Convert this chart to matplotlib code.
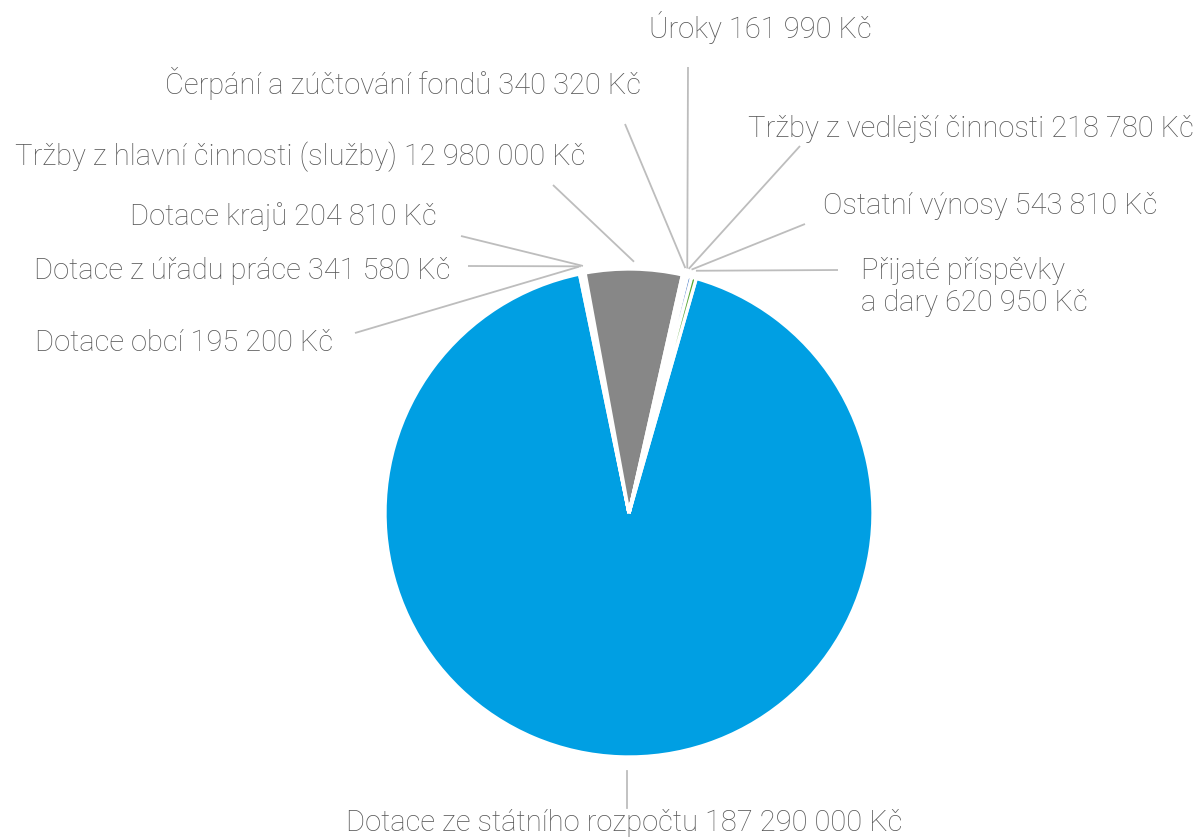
import math

import matplotlib.pyplot as plt

# hodnoty v Kč, pořadí po směru hodinových ručiček od modré výseče
labels = [
    "Dotace ze státního rozpočtu 187 290 000 Kč",
    "Dotace obcí 195 200 Kč",
    "Dotace z úřadu práce 341 580 Kč",
    "Dotace krajů 204 810 Kč",
    "Tržby z hlavní činnosti (služby) 12 980 000 Kč",
    "Čerpání a zúčtování fondů 340 320 Kč",
    "Úroky 161 990 Kč",
    "Tržby z vedlejší činnosti 218 780 Kč",
    "Ostatní výnosy 543 810 Kč",
    "Přijaté příspěvky\na dary 620 950 Kč",
]
values = [187290000, 195200, 341580, 204810, 12980000, 340320, 161990, 218780, 543810, 620950]
colors = ["#009fe3", "#f2b700", "#e5007e", "#95c11f", "#878787",
          "#b5b5b5", "#7ba7d9", "#c4d600", "#4a7cc7", "#55a630"]

W, H = 1203, 840
CX, CY, R = 629, 513, 244

# label anchors in pixels (x, y, ha)
label_pos = [
    (624, 823, "center"),
    (333, 343, "right"),
    (451, 271, "right"),
    (437, 217, "right"),
    (585, 157, "right"),
    (641, 83, "right"),
    (760, 28, "center"),
    (748, 129, "left"),
    (823, 206, "left"),
    (861, 287, "left"),
]
# start of leader line near the label (pixels)
line_start = [
    (627, 808),
    (355, 333),
    (468, 266),
    (461, 236),
    (553, 185),
    (625, 124),
    (688, 67),
    (800, 146),
    (805, 224),
    (838, 270),
]


def py(y):
    return H - y


fig = plt.figure(figsize=(W / 100, H / 100), dpi=100)
ax = fig.add_axes([0, 0, 1, 1])

explode = [0.0] * len(values)
explode[4] = 0.02
wedges, _ = ax.pie(values, colors=colors, startangle=74, counterclock=False,
                   center=(CX, py(CY)), radius=R, explode=explode,
                   wedgeprops={"edgecolor": "white", "linewidth": 2.4})
ax.set_xlim(0, W)
ax.set_ylim(0, H)
ax.set_aspect("equal")
ax.axis("off")

text_kw = dict(fontsize=21, color="#575757", family="Roboto", fontweight="light", va="center")
for i, (w, lab) in enumerate(zip(wedges, labels)):
    x, y, ha = label_pos[i]
    ax.text(x, py(y), lab, ha=ha, linespacing=1.15, **text_kw)
    sx, sy = line_start[i]
    if i == 0:
        ax.plot([sx, sx], [py(sy), py(CY + R + 14)], color="#bdbdbd", lw=1.3)
        continue
    mid = math.radians((w.theta1 + w.theta2) / 2)
    ex = CX + R * 1.03 * math.cos(mid)
    ey = py(CY) + R * 1.03 * math.sin(mid)
    ax.plot([sx, ex], [py(sy), ey], color="#bdbdbd", lw=1.3, solid_capstyle="butt")

fig.savefig("out.png", dpi=100)
